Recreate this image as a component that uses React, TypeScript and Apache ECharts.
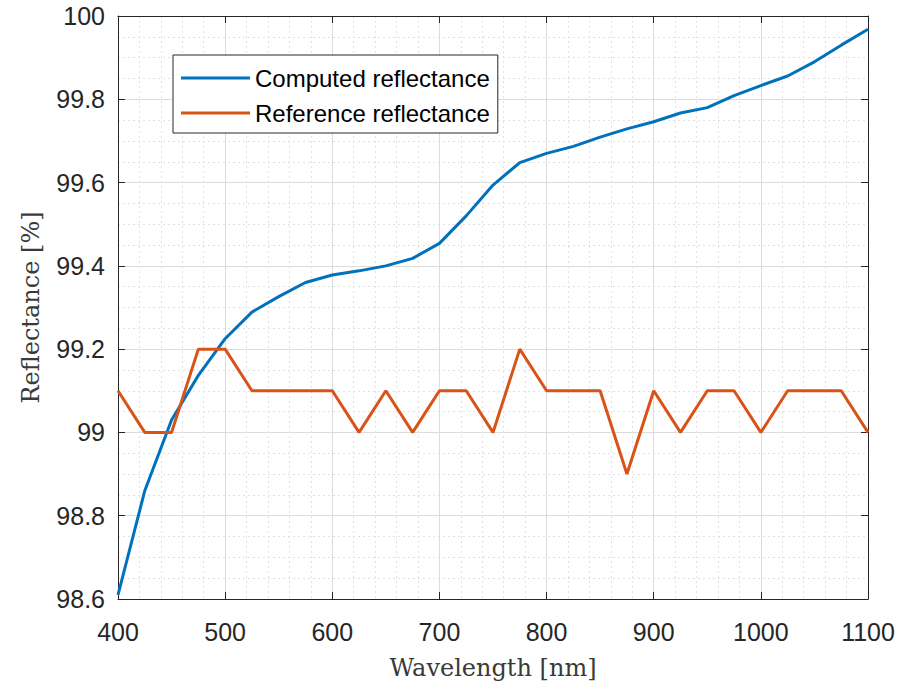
import React, { useEffect, useRef } from "react";
import * as echarts from "echarts";

const wavelengths = [400, 425, 450, 475, 500, 525, 550, 575, 600, 625, 650, 675, 700, 725, 750, 775, 800, 825, 850, 875, 900, 925, 950, 975, 1000, 1025, 1050, 1075, 1100];
const computed = [98.61, 98.86, 99.03, 99.137, 99.225, 99.289, 99.326, 99.36, 99.378, 99.388, 99.40, 99.418, 99.454, 99.52, 99.594, 99.648, 99.67, 99.687, 99.709, 99.729, 99.746, 99.767, 99.78, 99.809, 99.833, 99.856, 99.89, 99.93, 99.968];
const reference = [99.1, 99.0, 99.0, 99.2, 99.2, 99.1, 99.1, 99.1, 99.1, 99.0, 99.1, 99.0, 99.1, 99.1, 99.0, 99.2, 99.1, 99.1, 99.1, 98.9, 99.1, 99.0, 99.1, 99.1, 99.0, 99.1, 99.1, 99.1, 99.0];
const seriesNames = ["Computed reflectance", "Reference reflectance"];
const seriesColors = ["#0072BD", "#D95319"];

export default function App() {
  const ref = useRef<HTMLDivElement>(null);
  useEffect(() => {
    if (!ref.current) return;
    const chart = echarts.init(ref.current, null, { renderer: "svg" });
    const axisColor = "#262626";
    const tickFont = { fontFamily: "Liberation Sans, Arial, sans-serif", fontSize: 25, color: axisColor };
    const titleFont = { fontFamily: "DejaVu Serif, Liberation Serif, serif", fontSize: 24, color: "#3a3a3a" };
    const majorSplit = { show: true, lineStyle: { color: "#dcdcdc", width: 1 } };
    const minorSplit = { show: true, lineStyle: { color: "#e2e2e2", width: 1, type: [2, 3] as any } };
    const fmtY = (v: number) => String(+v.toFixed(1));
    const fmtX = (v: number) => String(Math.round(v));
    chart.setOption({
      animation: false,
      backgroundColor: "#ffffff",
      grid: { left: 118, right: 32, top: 16, bottom: 84, show: false },
      legend: {
        show: true,
        orient: "vertical",
        left: 173,
        top: 55,
        itemWidth: 69,
        itemHeight: 3,
        itemGap: 11,
        padding: [11, 8, 8, 8],
        borderColor: axisColor,
        borderWidth: 1,
        backgroundColor: "#ffffff",
        icon: "rect",
        textStyle: { fontFamily: "Liberation Sans, Arial, sans-serif", fontSize: 24, lineHeight: 22, color: "#000" },
        data: seriesNames.map((n, i) => ({ name: n, icon: "rect", itemStyle: { color: seriesColors[i] } })),
      },
      xAxis: [
        {
          type: "value",
          min: 400,
          max: 1100,
          interval: 100,
          position: "bottom",
          name: "Wavelength [nm]",
          nameLocation: "middle",
          nameGap: 57,
          nameTextStyle: titleFont,
          axisLine: { show: true, onZero: false, lineStyle: { color: axisColor, width: 1 } },
          axisTick: { show: true, inside: true, length: 7, lineStyle: { color: axisColor } },
          axisLabel: { ...tickFont, margin: 20, formatter: fmtX },
          splitLine: majorSplit,
          minorTick: { show: false, splitNumber: 5 },
          minorSplitLine: minorSplit,
        },
        {
          type: "value",
          min: 400,
          max: 1100,
          interval: 100,
          position: "top",
          axisLine: { show: true, onZero: false, lineStyle: { color: axisColor, width: 1 } },
          axisTick: { show: true, inside: true, length: 7, lineStyle: { color: axisColor } },
          axisLabel: { show: false },
          splitLine: { show: false },
        },
      ],
      yAxis: [
        {
          type: "value",
          min: 98.6,
          max: 100,
          interval: 0.2,
          position: "left",
          name: "Reflectance [%]",
          nameLocation: "middle",
          nameGap: 75,
          nameTextStyle: titleFont,
          axisLine: { show: true, onZero: false, lineStyle: { color: axisColor, width: 1 } },
          axisTick: { show: true, inside: true, length: 7, lineStyle: { color: axisColor } },
          axisLabel: { ...tickFont, margin: 13, formatter: fmtY },
          splitLine: majorSplit,
          minorTick: { show: false, splitNumber: 4 },
          minorSplitLine: minorSplit,
        },
        {
          type: "value",
          min: 98.6,
          max: 100,
          interval: 0.2,
          position: "right",
          axisLine: { show: true, onZero: false, lineStyle: { color: axisColor, width: 1 } },
          axisTick: { show: true, inside: true, length: 7, lineStyle: { color: axisColor } },
          axisLabel: { show: false },
          splitLine: { show: false },
        },
      ],
      series: [
        {
          name: seriesNames[0],
          type: "line",
          data: wavelengths.map((w, i) => [w, computed[i]]),
          showSymbol: false,
          symbol: "none",
          lineStyle: { color: seriesColors[0], width: 3 },
          itemStyle: { color: seriesColors[0] },
          z: 3,
        },
        {
          name: seriesNames[1],
          type: "line",
          data: wavelengths.map((w, i) => [w, reference[i]]),
          showSymbol: false,
          symbol: "none",
          lineStyle: { color: seriesColors[1], width: 3 },
          itemStyle: { color: seriesColors[1] },
          z: 4,
        },
      ],
    });
    return () => chart.dispose();
  }, []);
  return <div ref={ref} style={{ width: 900, height: 685, position: "absolute", left: 0, top: 0 }} />;
}
